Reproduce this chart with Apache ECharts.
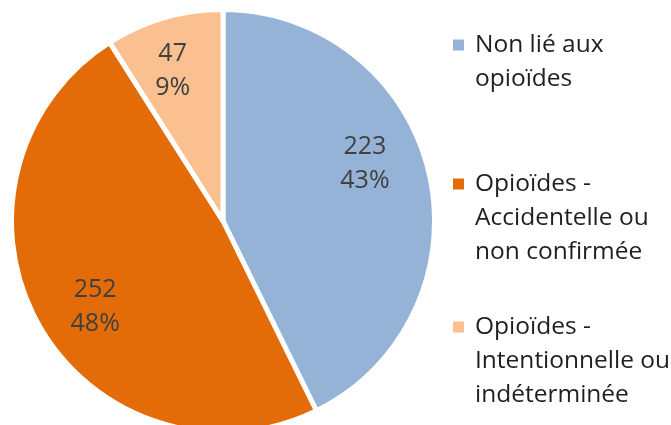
<!DOCTYPE html>
<html>
<head>
<meta charset="utf-8">
<script src="https://cdn.jsdelivr.net/npm/echarts@6/dist/echarts.min.js"></script>
<style>
  html, body { margin: 0; padding: 0; background: #ffffff; }
  #chart { width: 671px; height: 425px; }
</style>
</head>
<body>
<div id="chart"></div>
<script>
// Categories (legend text keeps its line breaks)
const categories = [
  'Non lié aux\nopioïdes',
  'Opioïdes -\nAccidentelle ou\nnon confirmée',
  'Opioïdes -\nIntentionnelle ou\nindéterminée'
];
// Number of cases per category
const counts = [223, 252, 47];
// Slice colours
const colors = ['#95B3D7', '#E36C09', '#FAC090'];

// Label nudges away from the default inside position [dx, dy]
const labelShift = [[36, -32], [-33, 33], [-20, -46]];
// Vertical centre of each legend key (aligned with its first text line)
const legendKeyY = [45, 184, 327];

const FONT = '"Open Sans", "Noto Sans", sans-serif';
const LH = 34;

const chart = echarts.init(document.getElementById('chart'), null, { renderer: 'canvas' });

// Legend keys: a small square next to the first line of a wrapped label
const legendGraphics = [];
categories.forEach((name, i) => {
  legendGraphics.push({
    type: 'rect',
    silent: true,
    shape: { x: 453, y: legendKeyY[i] - 5.5, width: 11, height: 11 },
    style: { fill: colors[i] }
  });
  legendGraphics.push({
    type: 'text',
    silent: true,
    x: 475,
    y: legendKeyY[i] - LH / 2,
    style: {
      text: name,
      font: '24.5px ' + FONT,
      lineHeight: LH,
      fill: '#1f1f1f',
      verticalAlign: 'top',
      align: 'left'
    }
  });
});

chart.setOption({
  animation: false,
  backgroundColor: '#ffffff',
  color: colors,
  graphic: legendGraphics,
  series: [{
    type: 'pie',
    center: [223, 221],
    radius: 211.5,
    startAngle: 90,
    clockwise: true,
    silent: true,
    itemStyle: { borderColor: '#ffffff', borderWidth: 5 },
    label: {
      position: 'inside',
      fontFamily: FONT,
      fontSize: 25,
      lineHeight: LH,
      color: '#404040',
      align: 'center',
      formatter: p => p.value + '\n' + Math.round(p.percent) + '%'
    },
    labelLine: { show: false },
    labelLayout: p => ({ dx: labelShift[p.dataIndex][0], dy: labelShift[p.dataIndex][1] }),
    data: categories.map((name, i) => ({ name: name, value: counts[i] }))
  }]
});
</script>
</body>
</html>
